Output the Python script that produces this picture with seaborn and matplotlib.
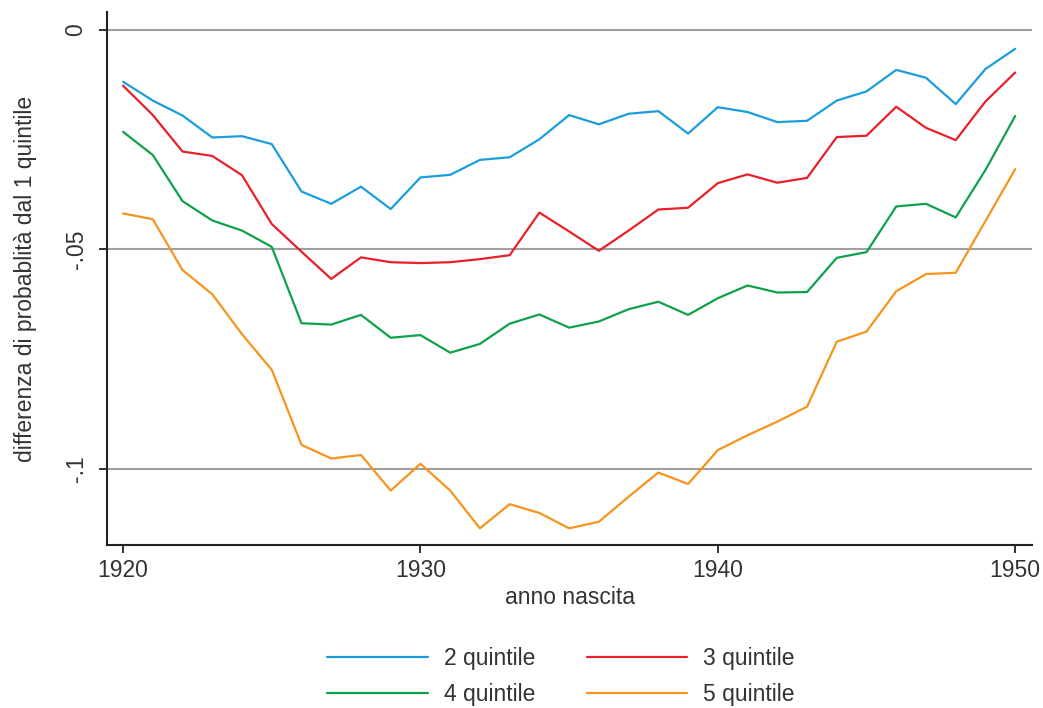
#!/usr/bin/env python3
"""
Differenza di probabilita' rispetto al 1 quintile, per anno di nascita
"""

import numpy as np
import pandas as pd
import matplotlib
matplotlib.use('Agg')
import matplotlib.pyplot as plt
import seaborn as sns

# data
years = list(range(1920, 1951))

q2 = [-0.0118, -0.0161, -0.0195, -0.0245, -0.0242, -0.0260, -0.0368, -0.0396,
      -0.0357, -0.0408, -0.0336, -0.0330, -0.0296, -0.0290, -0.0249, -0.0194,
      -0.0215, -0.0191, -0.0185, -0.0236, -0.0176, -0.0187, -0.0210, -0.0207,
      -0.0161, -0.0140, -0.0091, -0.0109, -0.0169, -0.0089, -0.0043]

q3 = [-0.0127, -0.0194, -0.0277, -0.0287, -0.0331, -0.0442, -0.0505, -0.0567,
      -0.0518, -0.0529, -0.0531, -0.0529, -0.0522, -0.0513, -0.0416, -0.0459,
      -0.0503, -0.0457, -0.0409, -0.0405, -0.0349, -0.0329, -0.0348, -0.0337,
      -0.0244, -0.0241, -0.0175, -0.0223, -0.0251, -0.0163, -0.0097]

q4 = [-0.0232, -0.0285, -0.0390, -0.0434, -0.0457, -0.0494, -0.0668, -0.0671,
      -0.0649, -0.0701, -0.0695, -0.0735, -0.0715, -0.0669, -0.0648, -0.0678,
      -0.0664, -0.0636, -0.0619, -0.0649, -0.0611, -0.0582, -0.0598, -0.0597,
      -0.0519, -0.0506, -0.0402, -0.0396, -0.0427, -0.0319, -0.0196]

q5 = [-0.0418, -0.0431, -0.0547, -0.0602, -0.0693, -0.0774, -0.0945, -0.0976,
      -0.0968, -0.1049, -0.0988, -0.1049, -0.1135, -0.1080, -0.1100, -0.1135,
      -0.1120, -0.1063, -0.1008, -0.1034, -0.0957, -0.0923, -0.0892, -0.0858,
      -0.0710, -0.0687, -0.0595, -0.0556, -0.0553, -0.0435, -0.0317]

series_names = ['2 quintile', '3 quintile', '4 quintile', '5 quintile']
series_colors = ['#1a9edb', '#e8202a', '#0ea14a', '#f7941d']

y_ticks = [0, -0.05, -0.1]
y_tick_labels = ['0', '-.05', '-.1']
x_ticks = [1920, 1930, 1940, 1950]

df = pd.concat([
    pd.DataFrame({'anno': years, 'diff': vals, 'serie': name})
    for name, vals in zip(series_names, [q2, q3, q4, q5])
], ignore_index=True)

sns.set_theme(style='white')
plt.rcParams['font.family'] = ['Liberation Sans', 'DejaVu Sans']
text_color = '#333333'
fs = 16.5

fig = plt.figure(figsize=(10.43, 7.08), dpi=100)
ax = fig.add_axes([0.1026, 0.2302, 0.887, 0.753])

# grid lines behind the data
for yt in y_ticks:
    ax.axhline(yt, color='#a0a0a0', lw=1.5, zorder=0)

sns.lineplot(data=df, x='anno', y='diff', hue='serie',
             palette=dict(zip(series_names, series_colors)),
             linewidth=1.6, ax=ax, legend=False)

ax.set_xlim(1919.46, 1950.57)
ax.set_ylim(-0.1173, 0.0041)
ax.set_xticks(x_ticks)
ax.set_xticklabels([str(x) for x in x_ticks])
ax.set_yticks(y_ticks)
ax.set_yticklabels(y_tick_labels, rotation=90, va='center')

ax.tick_params(axis='both', direction='out', length=6, width=1.3,
               colors='#222222', labelsize=fs, labelcolor=text_color)
ax.tick_params(axis='x', bottom=True, pad=4)
ax.tick_params(axis='y', left=True, pad=8)

for side in ['top', 'right']:
    ax.spines[side].set_visible(False)
for side in ['left', 'bottom']:
    ax.spines[side].set_color('#222222')
    ax.spines[side].set_linewidth(1.5)

ax.set_xlabel('anno nascita', fontsize=fs, color=text_color, labelpad=3)
ax.set_ylabel('differenza di probablità dal 1 quintile', fontsize=fs,
              color=text_color, labelpad=20)

# legend filled row by row: 2, 3 on top, 4, 5 below
handles = {n: plt.Line2D([], [], color=c, lw=1.6)
           for n, c in zip(series_names, series_colors)}
order = ['2 quintile', '4 quintile', '3 quintile', '5 quintile']
fig.legend([handles[n] for n in order], order, loc='center', ncol=2,
           bbox_to_anchor=(0.538, 0.0445), frameon=False, fontsize=fs,
           handlelength=4.37, handletextpad=0.7, columnspacing=2.27,
           labelspacing=0.58, labelcolor=text_color)

fig.savefig('out.png', dpi=100)
plt.close(fig)
